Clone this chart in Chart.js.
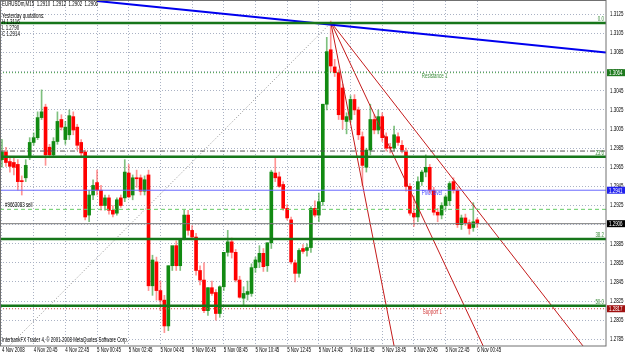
<!DOCTYPE html>
<html>
<head>
<meta charset="utf-8">
<script src="https://cdn.jsdelivr.net/npm/chart.js@4.4.0/dist/chart.umd.min.js"></script>
<style>
  html, body { margin: 0; padding: 0; background: #fff; }
  canvas { display: block; }
</style>
</head>
<body>
<canvas id="myChart" width="625" height="354"></canvas>
<script>
// EURUSDm M15, one candle every 15 minutes from 4 Nov 18:45
const opens = [
  1.2973, 1.2981, 1.2971, 1.2970, 1.2968, 1.2951, 1.2954, 1.2975, 1.2991, 1.2996,
  1.3017, 1.3028, 1.2986, 1.2978, 1.2992, 1.3015, 1.2994, 1.2999, 1.3018, 1.3007,
  1.2991, 1.2981, 1.2915, 1.2936, 1.2949, 1.2941, 1.2925, 1.2933, 1.2920, 1.2917,
  1.2933, 1.2933, 1.2959, 1.2936, 1.2954, 1.2954, 1.2940, 1.2957, 1.2841, 1.2866,
  1.2836, 1.2826, 1.2799, 1.2862, 1.2883, 1.2862, 1.2891, 1.2915, 1.2899, 1.2892,
  1.2857, 1.2847, 1.2815, 1.2839, 1.2834, 1.2812, 1.2840, 1.2876, 1.2887, 1.2876,
  1.2847, 1.2828, 1.2832, 1.2833, 1.2860, 1.2866, 1.2875, 1.2862, 1.2886, 1.2959,
  1.2955, 1.2947, 1.2922, 1.2910, 1.2865, 1.2854, 1.2880, 1.2878, 1.2881, 1.2922,
  1.2915, 1.2929, 1.3031, 1.3088, 1.3070, 1.3064, 1.3048, 1.3013, 1.3015, 1.3036,
  1.3025, 1.2997, 1.2965, 1.2983, 1.3015, 1.3004, 1.3018, 1.2997, 1.2986, 1.2985,
  1.2997, 1.2988, 1.2981, 1.2945, 1.2917, 1.2913, 1.2950, 1.2960, 1.2965, 1.2941,
  1.2918, 1.2915, 1.2925, 1.2930, 1.2950, 1.2941, 1.2905, 1.2912, 1.2907, 1.2902,
  1.2910
];
const highs = [
  1.2994, 1.2986, 1.2975, 1.2975, 1.2973, 1.2956, 1.2973, 1.2996, 1.3001, 1.3023,
  1.3046, 1.3031, 1.2989, 1.2996, 1.3023, 1.3020, 1.3013, 1.3025, 1.3023, 1.3010,
  1.2994, 1.2983, 1.2941, 1.2952, 1.2962, 1.2946, 1.2936, 1.2936, 1.2925, 1.2933,
  1.2936, 1.2973, 1.2968, 1.2957, 1.2962, 1.2957, 1.2956, 1.2962, 1.2873, 1.2871,
  1.2846, 1.2831, 1.2862, 1.2873, 1.2888, 1.2889, 1.2920, 1.2920, 1.2904, 1.2896,
  1.2862, 1.2865, 1.2839, 1.2846, 1.2837, 1.2841, 1.2876, 1.2899, 1.2891, 1.2879,
  1.2851, 1.2840, 1.2846, 1.2864, 1.2871, 1.2883, 1.2880, 1.2886, 1.2962, 1.2975,
  1.2960, 1.2950, 1.2926, 1.2913, 1.2868, 1.2880, 1.2884, 1.2885, 1.2924, 1.2930,
  1.2938, 1.3031, 1.3101, 1.3118, 1.3078, 1.3067, 1.3052, 1.3022, 1.3040, 1.3041,
  1.3028, 1.3002, 1.2985, 1.3031, 1.3020, 1.3025, 1.3022, 1.3001, 1.2990, 1.3008,
  1.3001, 1.2993, 1.2985, 1.2948, 1.2935, 1.2955, 1.2962, 1.2978, 1.2968, 1.2944,
  1.2922, 1.2928, 1.2936, 1.2950, 1.2954, 1.2944, 1.2915, 1.2916, 1.2910, 1.2928,
  1.2912
];
const lows = [
  1.2965, 1.2966, 1.2960, 1.2957, 1.2941, 1.2936, 1.2950, 1.2973, 1.2988, 1.2994,
  1.3015, 1.2967, 1.2975, 1.2976, 1.2989, 1.3004, 1.2989, 1.2994, 1.2999, 1.2983,
  1.2975, 1.2910, 1.2908, 1.2931, 1.2936, 1.2920, 1.2920, 1.2916, 1.2913, 1.2915,
  1.2923, 1.2929, 1.2933, 1.2931, 1.2944, 1.2936, 1.2936, 1.2836, 1.2831, 1.2826,
  1.2815, 1.2792, 1.2794, 1.2857, 1.2857, 1.2857, 1.2889, 1.2894, 1.2889, 1.2852,
  1.2842, 1.2813, 1.2810, 1.2831, 1.2805, 1.2808, 1.2836, 1.2872, 1.2870, 1.2845,
  1.2828, 1.2820, 1.2826, 1.2830, 1.2855, 1.2860, 1.2856, 1.2856, 1.2880, 1.2950,
  1.2944, 1.2920, 1.2910, 1.2864, 1.2845, 1.2850, 1.2875, 1.2872, 1.2876, 1.2913,
  1.2908, 1.2925, 1.3025, 1.3065, 1.3060, 1.3015, 1.3005, 1.3000, 1.3012, 1.3020,
  1.2994, 1.2946, 1.2960, 1.2978, 1.3000, 1.3000, 1.2992, 1.2982, 1.2980, 1.2982,
  1.2988, 1.2980, 1.2940, 1.2915, 1.2903, 1.2908, 1.2946, 1.2955, 1.2938, 1.2915,
  1.2908, 1.2911, 1.2920, 1.2925, 1.2938, 1.2902, 1.2900, 1.2904, 1.2895, 1.2898,
  1.2902
];
const closes = [
  1.2981, 1.2970, 1.2966, 1.2965, 1.2950, 1.2950, 1.2967, 1.2991, 1.2996, 1.3017,
  1.3023, 1.2978, 1.2978, 1.2992, 1.3013, 1.3007, 1.3007, 1.3019, 1.3004, 1.2988,
  1.2980, 1.2913, 1.2936, 1.2946, 1.2941, 1.2925, 1.2933, 1.2920, 1.2916, 1.2931,
  1.2925, 1.2960, 1.2934, 1.2954, 1.2953, 1.2940, 1.2952, 1.2841, 1.2868, 1.2836,
  1.2826, 1.2799, 1.2862, 1.2883, 1.2862, 1.2889, 1.2915, 1.2899, 1.2892, 1.2857,
  1.2847, 1.2815, 1.2839, 1.2833, 1.2812, 1.2840, 1.2876, 1.2887, 1.2876, 1.2847,
  1.2829, 1.2833, 1.2835, 1.2860, 1.2868, 1.2875, 1.2861, 1.2886, 1.2960, 1.2954,
  1.2945, 1.2922, 1.2912, 1.2866, 1.2854, 1.2878, 1.2877, 1.2881, 1.2922, 1.2915,
  1.2929, 1.3031, 1.3086, 1.3071, 1.3064, 1.3020, 1.3015, 1.3018, 1.3036, 1.3025,
  1.2999, 1.2967, 1.2983, 1.3015, 1.3004, 1.3018, 1.2996, 1.2985, 1.2985, 1.2999,
  1.2991, 1.2983, 1.2945, 1.2917, 1.2913, 1.2950, 1.2960, 1.2965, 1.2941, 1.2918,
  1.2915, 1.2925, 1.2934, 1.2948, 1.2941, 1.2905, 1.2912, 1.2907, 1.2901, 1.2908,
  1.2906
];

// one label every 8 bars (2 hours)
const timeLabels = [
  "4 Nov 2008", "4 Nov 20:45", "4 Nov 22:45", "5 Nov 00:45", "5 Nov 02:45", "5 Nov 04:45",
  "5 Nov 06:45", "5 Nov 08:45", "5 Nov 10:45", "5 Nov 12:45", "5 Nov 14:45", "5 Nov 16:45",
  "5 Nov 18:45", "5 Nov 20:45", "5 Nov 22:45", "6 Nov 00:45"
];
const priceTicks = [
  1.3125, 1.3105, 1.3085, 1.3065, 1.3045, 1.3025, 1.3005, 1.2985, 1.2965, 1.2945,
  1.2925, 1.2905, 1.2885, 1.2865, 1.2845, 1.2825, 1.2805, 1.2785
];

// objects drawn on the chart
const fibLevels = [1.3116, 1.2976, 1.2890, 1.2820];
const fibNames = ["0.0", "23.6", "38.2", "50.0"];
const resistance1 = 1.3064;
const pivotLevel = 1.2941;
const support1 = 1.2817;
const dashDotLevel = 1.2982;
const orderLevel = 1.2921;
const bidLevel = 1.2906;
const blueTrend = [{ x: 24, y: 1.3139 }, { x: 152.5, y: 1.3085 }];
const fibTrend = [{ x: -59, y: 1.2525 }, { x: 83, y: 1.3116 }];
const fanOrigin = { x: 83, y: 1.3117 };
const fanEnds = [{ x: 99, y: 1.2778 }, { x: 121.5, y: 1.2778 }, { x: 146.7, y: 1.2778 }];
const yesterday = ["Yesterday quotations:", "H 1.3116", "L 1.2790", "C 1.2914"];

const fontFamily = '"Liberation Sans", Arial, sans-serif';
const squeeze = 0.68; // MT4 text is narrow

const hline = (price, color, width, dash) => ({
  type: "line",
  data: [{ x: -0.5, y: price }, { x: 152.5, y: price }],
  borderColor: color,
  borderWidth: width,
  borderDash: dash || [],
  pointRadius: 0,
  fill: false,
  order: 0
});
const tline = (pts, color, width, dash) => ({
  type: "line",
  data: pts,
  borderColor: color,
  borderWidth: width,
  borderDash: dash || [],
  pointRadius: 0,
  fill: false,
  order: 0
});

const isBull = opens.map((o, i) => closes[i] >= o);

const bodies = {
  type: "bar",
  data: opens.map((o, i) => ({ x: i, y: [o, closes[i]] })),
  backgroundColor: isBull.map(b => b ? "#128a12" : "#ff0000"),
  barThickness: 3,
  minBarLength: 1,
  grouped: false,
  order: 1
};
const wicks = {
  type: "bar",
  data: opens.map((o, i) => ({ x: i, y: [lows[i], highs[i]] })),
  backgroundColor: isBull.map(b => b ? "rgba(20,140,20,0.55)" : "rgba(255,40,40,0.5)"),
  barThickness: 1,
  grouped: false,
  order: 2
};

const datasets = [
  hline(fibLevels[0], "#16761a", 2.5),
  hline(fibLevels[1], "#16761a", 2.5),
  hline(fibLevels[2], "#16761a", 2.5),
  hline(fibLevels[3], "#16761a", 2.5),
  hline(resistance1, "#3a9a3a", 1, [1, 2]),
  hline(dashDotLevel, "#555555", 1, [5, 2, 1, 2]),
  hline(pivotLevel, "#6a6aff", 1),
  hline(orderLevel, "#66cc66", 1, [4, 3]),
  hline(bidLevel, "#7a7a7a", 1),
  hline(support1, "#d04848", 1, [1, 2]),
  tline(blueTrend, "#0000ee", 2),
  tline(fibTrend, "#8c8c8c", 1, [1, 2]),
  ...fanEnds.map(e => tline([fanOrigin, e], "#c41a1a", 1)),
  bodies,
  wicks
];

function txt(ctx, s, x, y, align) {
  ctx.save();
  ctx.translate(x, y);
  ctx.scale(squeeze, 1);
  ctx.textAlign = align || "left";
  ctx.fillText(s, 0, 0);
  ctx.restore();
}

const notes = {
  id: "notes",
  afterDraw(chart) {
    const { ctx, chartArea: a, scales: { x, y } } = chart;
    ctx.save();
    // frame
    ctx.strokeStyle = "#707070";
    ctx.lineWidth = 1;
    ctx.strokeRect(0.5, 0.5, a.right - 0.5, a.bottom - 0.5);

    ctx.font = "6.5px " + fontFamily;
    ctx.textBaseline = "middle";
    ctx.fillStyle = "#000";

    // axis labels through the scales
    priceTicks.forEach(p => txt(ctx, p.toFixed(4), a.right + 4, y.getPixelForValue(p)));
    timeLabels.forEach((t, k) => txt(ctx, t, x.getPixelForValue(k * 8), a.bottom + 4.5));

    txt(ctx, "EURUSDm,M15  1.2910  1.2912  1.2902  1.2906", 2, 4.5);
    yesterday.forEach((t, k) => txt(ctx, t, 2, 16 + k * 6));
    txt(ctx, "InterbankFX Trader 4, \u00a9 2001-2008 MetaQuotes Software Corp.", 2, 340.5);
    txt(ctx, "#9663083 sell", 5, y.getPixelForValue(orderLevel) - 4);

    // fibonacci level names
    ctx.fillStyle = "#3c8c3c";
    fibLevels.forEach((p, k) => txt(ctx, fibNames[k], a.right - 2, y.getPixelForValue(p) - 3.5, "right"));

    // pivot texts
    const px = x.getPixelForValue(106);
    ctx.fillStyle = "#3c8c3c";
    txt(ctx, "Resistance 1", px, y.getPixelForValue(resistance1) + 3.5);
    ctx.fillStyle = "#3c3cff";
    txt(ctx, "Pivot level", px, y.getPixelForValue(pivotLevel) + 3);
    ctx.fillStyle = "#d03030";
    txt(ctx, "Support 1", px + 1, y.getPixelForValue(support1) + 3.5);

    // price boxes on the axis
    const boxes = [
      [resistance1, "#1e7a1e"], [pivotLevel, "#2222ee"], [bidLevel, "#000000"], [support1, "#a01010"]
    ];
    boxes.forEach(([p, c]) => {
      const py = y.getPixelForValue(p);
      ctx.fillStyle = c;
      ctx.fillRect(a.right + 1, py - 3.5, 18, 7);
      ctx.fillStyle = "#fff";
      txt(ctx, p.toFixed(4), a.right + 3, py + 0.5);
    });
    ctx.restore();
  }
};

const tickIdx = timeLabels.map((t, k) => k * 8);

new Chart(document.getElementById("myChart"), {
  data: { datasets },
  options: {
    responsive: false,
    devicePixelRatio: 1,
    animation: false,
    events: [],
    layout: { padding: { top: 1, left: 0, right: 0, bottom: 0 } },
    plugins: { legend: { display: false }, tooltip: { enabled: false } },
    scales: {
      x: {
        type: "linear",
        min: -0.5,
        max: 152.5,
        offset: false,
        afterBuildTicks: s => { s.ticks = tickIdx.map(v => ({ value: v })); },
        afterFit: s => { s.height = 8; },
        ticks: { display: false },
        grid: { color: "#aab2c4", drawTicks: false, offset: false },
        border: { display: false, dash: [1, 2] }
      },
      y: {
        position: "right",
        min: 1.2778,
        max: 1.3139,
        afterBuildTicks: s => { s.ticks = priceTicks.map(v => ({ value: v })); },
        afterFit: s => { s.width = 19; },
        ticks: { display: false },
        grid: { color: "#aab2c4", drawTicks: false },
        border: { display: false, dash: [1, 2] }
      }
    }
  },
  plugins: [notes]
});
</script>
</body>
</html>
